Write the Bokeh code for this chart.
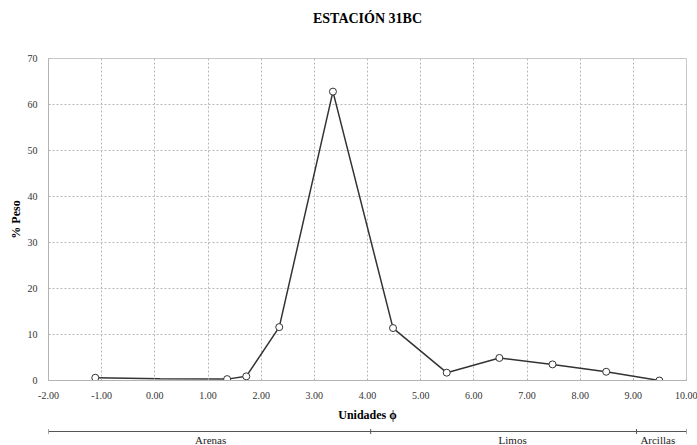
from bokeh.plotting import figure
from bokeh.layouts import column
from bokeh.models import NumeralTickFormatter, FixedTicker, Range1d
from bokeh.embed import file_html
from bokeh.resources import INLINE

# Data
phi_line = [-1.12, 0.10, 1.36, 1.72, 2.34, 3.35, 4.48, 5.49, 6.48, 7.48, 8.49, 9.49]
peso_line = [0.6, 0.4, 0.3, 0.9, 11.6, 62.8, 11.4, 1.7, 4.9, 3.5, 1.9, 0.0]
phi_pts = [-1.12, 1.36, 1.72, 2.34, 3.35, 4.48, 5.49, 6.48, 7.48, 8.49, 9.49]
peso_pts = [0.6, 0.3, 0.9, 11.6, 62.8, 11.4, 1.7, 4.9, 3.5, 1.9, 0.0]
x_ticks = [-2, -1, 0, 1, 2, 3, 4, 5, 6, 7, 8, 9, 10]
y_ticks = [0, 10, 20, 30, 40, 50, 60, 70]
class_names = ["Arenas", "Limos", "Arcillas"]
class_bounds = [-2.0, 4.06, 9.06, 10.0]
class_label_x = [1.05, 6.73, 9.46]
title_text = "ESTACIÓN 31BC"

FONT = "Liberation Serif"
W = 697
LB, RB = 48, 11

# title strip
t = figure(width=W, height=40, output_backend="svg", toolbar_location=None,
           x_range=Range1d(0, W), y_range=Range1d(0, 40),
           min_border_left=0, min_border_right=0, min_border_top=0, min_border_bottom=0)
t.axis.visible = False
t.grid.visible = False
t.outline_line_color = None
t.text(x=[W / 2], y=[22], text=[title_text], text_align="center", text_baseline="middle",
       text_font={"value": FONT}, text_font_size="14px", text_font_style="bold",
       text_color="#000000")

p = figure(width=W, height=384, output_backend="svg", toolbar_location=None,
           x_range=Range1d(-2, 10), y_range=Range1d(0, 70),
           min_border_left=LB, min_border_right=RB, min_border_top=18, min_border_bottom=42)
p.outline_line_color = "#c8c8c8"
p.background_fill_color = "white"

p.xaxis.ticker = FixedTicker(ticks=x_ticks)
p.yaxis.ticker = FixedTicker(ticks=y_ticks)
p.xaxis.formatter = NumeralTickFormatter(format="0.00")
for ax in (p.xaxis[0], p.yaxis[0]):
    ax.axis_line_color = "#b4b4b4"
    ax.major_tick_line_color = "#b4b4b4"
    ax.major_tick_in = 2
    ax.major_tick_out = 0
    ax.minor_tick_line_color = None
    ax.major_label_text_font = FONT
    ax.major_label_text_font_size = "10px"
    ax.major_label_text_color = "#333333"
    ax.axis_label_text_font = FONT
    ax.axis_label_text_font_style = "bold"
    ax.axis_label_text_font_size = "12px"
    ax.axis_label_text_color = "#000000"
p.xaxis.axis_label = "Unidades ϕ"
p.yaxis.axis_label = "% Peso"
p.xaxis.major_label_standoff = 11
p.xaxis.axis_label_standoff = 6
p.yaxis.major_label_standoff = 11
p.yaxis.axis_label_standoff = 2

p.grid.grid_line_color = "#b8b8b8"
p.grid.grid_line_dash = "2 2"
p.grid.grid_line_width = 1

p.line(phi_line, peso_line, line_color="#333333", line_width=1.5)
p.scatter(phi_pts, peso_pts, marker="circle", size=7, line_color="#333333",
          fill_color="white", line_width=1)

# bracket strip
q = figure(width=W, height=21, output_backend="svg", toolbar_location=None,
           x_range=p.x_range, y_range=Range1d(0, 21),
           min_border_left=LB, min_border_right=RB, min_border_top=0, min_border_bottom=0)
q.axis.visible = False
q.grid.visible = False
q.outline_line_color = None
q.segment(x0=[class_bounds[0]], y0=[14], x1=[class_bounds[-1]], y1=[14],
          line_color="#555555", line_width=1)
q.segment(x0=class_bounds, y0=[11.5] * 4, x1=class_bounds, y1=[16.5] * 4,
          line_color="#555555", line_width=1)
q.text(x=class_label_x, y=[5.5] * 3, text=class_names, text_align="center",
       text_baseline="middle", text_font={"value": FONT}, text_font_size="11px",
       text_color="#222222")

layout = column(t, p, q, spacing=0)
open("out.html", "w").write(file_html(layout, INLINE))
